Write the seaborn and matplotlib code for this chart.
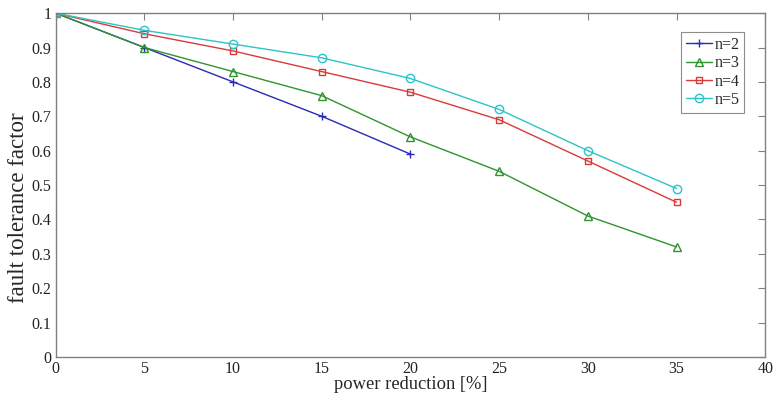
import numpy as np
import pandas as pd
import seaborn as sns
import matplotlib
matplotlib.use("Agg")
from matplotlib import pyplot as plt

# data
reduction = [0, 5, 10, 15, 20, 25, 30, 35]
n2 = [1.0, 0.90, 0.80, 0.70, 0.59]
n3 = [1.0, 0.90, 0.83, 0.76, 0.64, 0.54, 0.41, 0.32]
n4 = [1.0, 0.94, 0.89, 0.83, 0.77, 0.69, 0.57, 0.45]
n5 = [1.0, 0.95, 0.91, 0.87, 0.81, 0.72, 0.60, 0.49]
labels = ["n=2", "n=3", "n=4", "n=5"]

colors = ["#2a2ab8", "#2f932f", "#d83a3a", "#2cc4c8"]
markers = ["+", "^", "s", "o"]


def draw():
    sns.set_theme(style="white")
    plt.rcParams['font.family'] = ['Liberation Serif', 'DejaVu Serif']
    fig = plt.figure(figsize=(7.73, 3.98), dpi=100)
    ax = fig.add_axes([0.072, 0.103, 0.918, 0.864])

    for lab, ys, c, m in zip(labels, [n2, n3, n4, n5], colors, markers):
        df = pd.DataFrame({'x': reduction[:len(ys)], 'y': ys})
        sns.lineplot(data=df, x='x', y='y', ax=ax, color=c, marker=m,
                     markersize=6 if m != 's' else 5, mfc='none', mec=c,
                     mew=1.0, linewidth=1.0, label=lab)

    ax.set_xlim(0, 40)
    ax.set_ylim(0, 1)
    ax.set_xticks(np.arange(0, 41, 5))
    ax.set_yticks(np.arange(0, 1.01, 0.1))
    ax.set_yticklabels(['0', '0.1', '0.2', '0.3', '0.4', '0.5', '0.6',
                        '0.7', '0.8', '0.9', '1'])
    ax.set_xlabel('power reduction [%]', fontsize=13.3, labelpad=-1)
    ax.set_ylabel('fault tolerance factor', fontsize=16.5)
    ax.yaxis.set_label_coords(-0.038, 0.433)
    ax.tick_params(direction='in', length=5, width=0.8, color='#808080',
                   labelsize=11.5, top=True, right=True, pad=3,
                   labelcolor='#222222')
    for s in ax.spines.values():
        s.set_color('#808080')
        s.set_linewidth(1.0)

    leg = ax.legend(loc='upper right', bbox_to_anchor=(0.97, 0.945),
                    fontsize=11.5, frameon=True, fancybox=False,
                    handlelength=1.6, handletextpad=0.15, borderpad=0.3,
                    labelspacing=0.15, borderaxespad=0)
    leg.get_frame().set_edgecolor('#707070')
    leg.get_frame().set_linewidth(0.8)

    fig.savefig('out.png', dpi=100)


if __name__ == '__main__':
    draw()
